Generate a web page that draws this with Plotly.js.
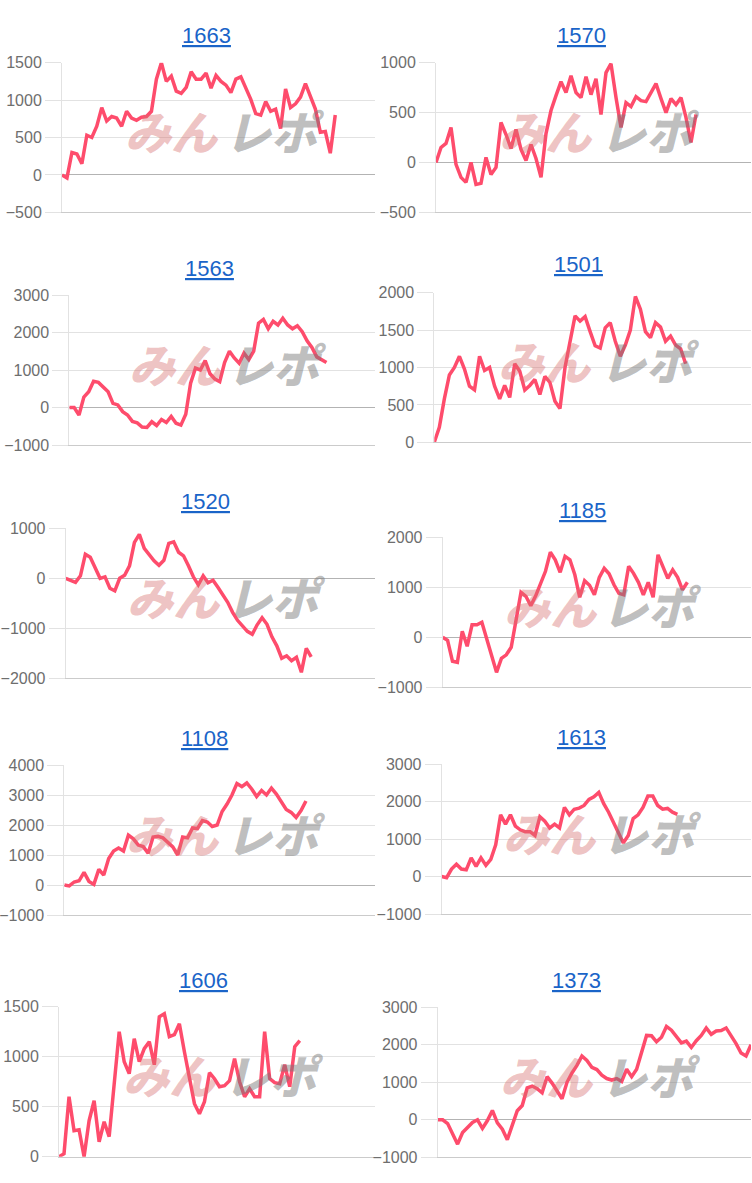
<!DOCTYPE html>
<html>
<head>
<meta charset="utf-8">
<script src="https://cdn.plot.ly/plotly-3.0.1.min.js"></script>
<style>
html,body{margin:0;padding:0;background:#ffffff;}
#chart{width:752px;height:1183px;}
</style>
</head>
<body>
<div id="chart"></div>
<script>
// ---- data ----
const machineIds = ['1663','1570','1563','1501','1520','1185','1108','1613','1606','1373'];
const xSlots = 64;

const s1663 = [0,-40,300,280,150,530,500,650,900,720,780,760,650,850,760,730,770,780,850,1280,1500,1250,1320,1120,1090,1170,1380,1280,1280,1360,1160,1330,1250,1200,1100,1280,1310,1160,1010,820,800,980,850,880,620,1150,900,950,1040,1220,1060,880,570,580,290,800];
const s1570 = [0,150,190,350,-20,-150,-200,0,-220,-210,50,-120,-50,400,280,140,330,130,20,180,40,-150,290,520,670,810,700,870,700,650,860,680,840,480,900,990,650,350,600,560,660,620,610,700,790,640,500,640,580,650,450,200,480];
const s1563 = [0,0,-200,280,420,700,670,560,420,110,70,-110,-200,-370,-410,-520,-530,-380,-480,-320,-400,-240,-420,-470,-180,650,1050,1000,1250,900,760,690,1200,1500,1320,1180,1450,1280,1500,2250,2350,2100,2300,2200,2380,2200,2100,2180,2020,1780,1600,1350,1280,1200];
const s1501 = [0,200,580,900,1000,1150,980,750,700,1150,960,1000,750,580,760,600,1050,950,700,760,840,640,880,800,550,450,1000,1350,1690,1620,1680,1480,1290,1260,1530,1600,1350,1150,1300,1500,1950,1780,1480,1400,1600,1540,1350,1420,1300,1250,1050];
const s1520 = [0,-40,-80,50,480,420,220,0,30,-200,-250,0,60,250,720,880,600,480,350,260,360,700,730,520,450,250,30,-130,50,-90,-40,-180,-330,-480,-680,-840,-950,-1060,-1120,-930,-790,-920,-1170,-1350,-1600,-1550,-1650,-1580,-1880,-1400,-1570];
const s1185 = [0,-60,-480,-500,120,-180,250,250,300,-30,-380,-700,-420,-350,-200,350,900,820,630,830,1100,1320,1700,1550,1300,1620,1550,1250,800,1130,1040,850,1200,1380,1270,1050,880,850,1420,1280,1100,850,1100,800,1650,1420,1180,1350,1200,950,1100];
const s1108 = [0,-30,100,140,420,120,20,520,330,880,1130,1230,1130,1660,1540,1330,1280,1060,1600,1620,1570,1420,1270,1000,1600,1570,1900,1880,2150,2100,1950,2000,2450,2700,3000,3380,3280,3400,3200,2950,3150,3000,3230,3030,2780,2520,2420,2250,2480,2800];
const s1613 = [0,-30,200,330,200,180,500,270,500,300,460,850,1650,1400,1650,1350,1250,1200,1200,1100,1600,1480,1300,1400,1300,1850,1650,1800,1830,1900,2060,2130,2250,1950,1720,1450,1150,900,1100,1550,1650,1850,2150,2150,1900,1800,1820,1720,1660];
const s1606 = [0,30,600,260,270,0,360,560,150,350,200,700,1250,950,830,1180,950,1080,1150,920,1400,1430,1200,1220,1330,1050,780,530,430,550,840,780,700,710,760,980,750,600,680,600,600,1250,780,740,730,920,700,1100,1160];
const s1373 = [0,0,-100,-380,-650,-340,-200,-70,0,-230,-20,250,-80,-250,-530,-150,240,380,850,900,830,720,1150,980,750,560,1000,1250,1450,1700,1580,1400,1340,1190,1100,1060,1100,1020,1350,1150,1350,1800,2250,2240,2080,2200,2490,2390,2200,2050,2100,1930,2110,2250,2450,2280,2370,2380,2450,2250,2030,1780,1700,2000];

const seriesList = [s1663,s1570,s1563,s1501,s1520,s1185,s1108,s1613,s1606,s1373];
const yRanges = [[-500,1500],[-500,1000],[-1000,3000],[0,2000],[-2000,1000],[-1000,2000],[-1000,4000],[-1000,3000],[0,1500],[-1000,3000]];
const yDticks = [500,500,1000,500,1000,1000,1000,1000,500,1000];

// ---- layout geometry (pixels) ----
const W = 752, H = 1183;
// [left, right, top, bottom] of each plot area
const boxes = [
  [62,375,62.7,212.3],[436,751,62.7,212.3],
  [69.3,375,295,445],[434.3,751,292.7,442.3],
  [65.7,375,528.3,678.3],[442.7,751,537.3,687.3],
  [64.3,375,765,915],[441.7,751,764.3,914],
  [59,375,1006.7,1156.7],[437.7,751,1007.3,1157.3]
];
const titlePos = [[206.7,35],[581.3,35],[209,268],[578.7,265],[205.3,501],[582,510.7],[204.3,738.3],[581,737.3],[203.7,980],[576.8,980.7]];

const lineColor = '#fe4c6c';
const gridColor = '#e2e2e2';

const traces = [];
const layout = {
  width: W, height: H,
  margin: {l:0, r:0, t:0, b:0},
  paper_bgcolor: '#ffffff', plot_bgcolor: 'rgba(0,0,0,0)',
  showlegend: false,
  annotations: []
};

seriesList.forEach((ser, k) => {
  const sfx = k === 0 ? '' : String(k + 1);
  const b = boxes[k];
  traces.push({
    type: 'scatter', mode: 'lines',
    x: ser.map((_, i) => i), y: ser,
    xaxis: 'x' + sfx, yaxis: 'y' + sfx,
    line: {color: lineColor, width: 3.5},
    hoverinfo: 'skip'
  });
  layout['xaxis' + sfx] = {
    domain: [b[0] / W, b[1] / W],
    range: [0, xSlots - 1],
    anchor: 'y' + sfx,
    showgrid: false, zeroline: false, showticklabels: false, ticks: '',
    showline: true, linecolor: '#cbcbcb', linewidth: 1,
    fixedrange: true
  };
  layout['yaxis' + sfx] = {
    domain: [1 - b[3] / H, 1 - b[2] / H],
    range: yRanges[k],
    tick0: 0, dtick: yDticks[k],
    anchor: 'x' + sfx,
    showgrid: true, gridcolor: gridColor, gridwidth: 1,
    zeroline: true, zerolinecolor: '#b3b3b3', zerolinewidth: 1,
    showline: true, linecolor: gridColor, linewidth: 1,
    ticks: 'outside', ticklen: 16, tickcolor: gridColor, tickwidth: 1,
    tickfont: {family: 'Arial, "Liberation Sans", sans-serif', size: 16, color: '#6e6e6e'},
    fixedrange: true
  };
  // title
  layout.annotations.push({
    xref: 'paper', yref: 'paper',
    x: titlePos[k][0] / W, y: 1 - titlePos[k][1] / H,
    xanchor: 'center', yanchor: 'middle',
    text: '<u>' + machineIds[k] + '</u>', showarrow: false,
    font: {family: 'Arial, "Liberation Sans", sans-serif', size: 22, color: '#1a64c8'}
  });
  // watermark
  layout.annotations.push({
    xref: 'x' + sfx + ' domain', yref: 'y' + sfx + ' domain',
    x: 0.35, y: 0.55, xanchor: 'center', yanchor: 'middle',
    text: 'みん', showarrow: false,
    font: {family: '"Noto Sans CJK JP", sans-serif', size: 46, weight: 900, style: 'italic', color: 'rgba(215,110,110,0.42)'}
  });
  layout.annotations.push({
    xref: 'x' + sfx + ' domain', yref: 'y' + sfx + ' domain',
    x: 0.68, y: 0.55, xanchor: 'center', yanchor: 'middle',
    text: 'レポ', showarrow: false,
    font: {family: '"Noto Sans CJK JP", sans-serif', size: 46, weight: 900, style: 'italic', color: 'rgba(120,120,120,0.48)'}
  });
});

Plotly.newPlot('chart', traces, layout, {staticPlot: true, displayModeBar: false});
</script>
</body>
</html>
